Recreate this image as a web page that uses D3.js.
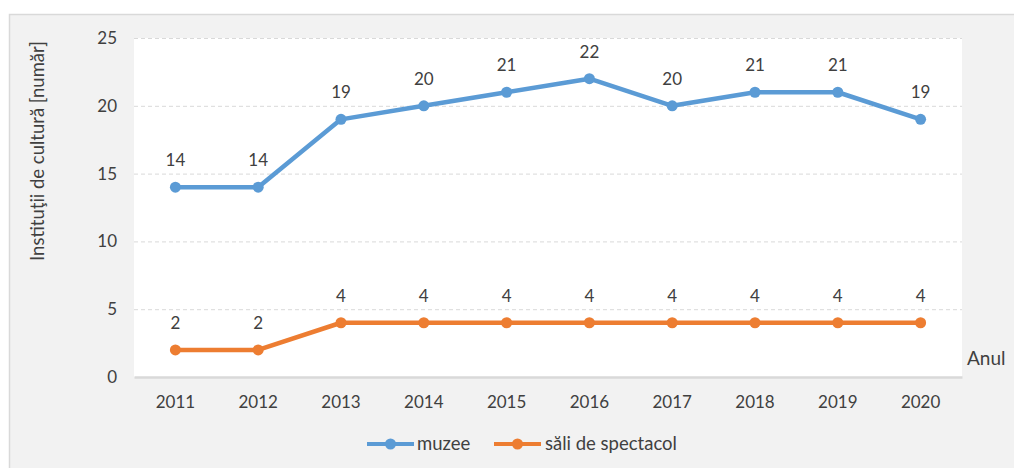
<!DOCTYPE html>
<html>
<head>
<meta charset="utf-8">
<script src="https://cdn.jsdelivr.net/npm/d3@7"></script>
<style>
  html, body { margin: 0; padding: 0; background: #ffffff; }
  svg { display: block; }
  text { font-family: Lato, "Open Sans", sans-serif; fill: #404040; }
</style>
</head>
<body>
<svg id="chart" width="1014" height="468"></svg>
<script>
// Culture institutions by year
const years = ["2011","2012","2013","2014","2015","2016","2017","2018","2019","2020"];
const muzee = [14, 14, 19, 20, 21, 22, 20, 21, 21, 19];
const saliSpectacol = [2, 2, 4, 4, 4, 4, 4, 4, 4, 4];
const yTicks = [0, 5, 10, 15, 20, 25];
const seriesNames = ["muzee", "săli de spectacol"];
const seriesColors = ["#5b9bd5", "#ed7d31"];

const svg = d3.select("#chart");
const W = 1014, H = 468;
const plot = { left: 134, right: 962, top: 38, bottom: 377 };

// outer chart frame
svg.append("rect")
  .attr("x", 9.5).attr("y", 14.5)
  .attr("width", W + 10).attr("height", H + 10)
  .attr("fill", "#f2f2f2").attr("stroke", "#d9d9d9").attr("stroke-width", 1.5);

// plot background
svg.append("rect")
  .attr("x", plot.left).attr("y", plot.top)
  .attr("width", plot.right - plot.left).attr("height", plot.bottom - plot.top)
  .attr("fill", "#ffffff");

const x = d3.scaleBand().domain(years).range([plot.left, plot.right]);
const y = d3.scaleLinear().domain([0, 25]).range([plot.bottom, plot.top]);
const cx = d => x(d) + x.bandwidth() / 2;

// gridlines
svg.append("g").selectAll("line")
  .data(yTicks.filter(t => t > 0))
  .join("line")
  .attr("x1", plot.left).attr("x2", plot.right)
  .attr("y1", d => y(d) + 0.5).attr("y2", d => y(d) + 0.5)
  .attr("stroke", "#d9d9d9").attr("stroke-width", 1)
  .attr("stroke-dasharray", "4,3");

// y axis
const yAxis = svg.append("g")
  .attr("transform", `translate(${plot.left},0)`)
  .call(d3.axisLeft(y).tickValues(yTicks).tickSize(0).tickPadding(17));
yAxis.select(".domain").remove();
yAxis.selectAll("text").attr("font-size", 17).attr("fill", "#595959")
  .style("font-family", "Lato, sans-serif");

// x axis
const xAxis = svg.append("g")
  .attr("transform", `translate(0,${plot.bottom})`)
  .call(d3.axisBottom(x).tickSize(0).tickPadding(19));
xAxis.select(".domain").attr("stroke", "#d9d9d9").attr("stroke-width", 2.5);
xAxis.selectAll("text").attr("font-size", 17).attr("fill", "#595959")
  .style("font-family", "Lato, sans-serif");

// axis titles
svg.append("text")
  .attr("transform", `translate(44,151) rotate(-90)`)
  .attr("text-anchor", "middle")
  .attr("font-size", 18.5)
  .attr("fill", "#595959")
  .text("Instituţii de cultură [număr]");

svg.append("text")
  .attr("x", 967).attr("y", 365)
  .attr("font-size", 19)
  .attr("fill", "#595959")
  .text("Anul");

// series
const series = [muzee, saliSpectacol];
const line = d3.line().x((d, i) => cx(years[i])).y(d => y(d));

series.forEach((vals, s) => {
  const g = svg.append("g");
  g.append("path")
    .datum(vals)
    .attr("d", line)
    .attr("fill", "none")
    .attr("stroke", seriesColors[s])
    .attr("stroke-width", 4.5)
    .attr("stroke-linejoin", "round");
  g.selectAll("circle")
    .data(vals)
    .join("circle")
    .attr("cx", (d, i) => cx(years[i]))
    .attr("cy", d => y(d))
    .attr("r", 5.5)
    .attr("fill", seriesColors[s]);
  g.selectAll("text")
    .data(vals)
    .join("text")
    .attr("x", (d, i) => cx(years[i]))
    .attr("y", d => y(d) - 21)
    .attr("text-anchor", "middle")
    .attr("font-size", 17)
    .text(d => d);
});

// legend
const legendItems = [
  { x0: 367, tx: 417 },
  { x0: 494, tx: 545 }
];
legendItems.forEach((it, s) => {
  const ly = 444;
  svg.append("line")
    .attr("x1", it.x0).attr("x2", it.x0 + 47)
    .attr("y1", ly).attr("y2", ly)
    .attr("stroke", seriesColors[s]).attr("stroke-width", 4);
  svg.append("circle")
    .attr("cx", it.x0 + 23.5).attr("cy", ly).attr("r", 5.5)
    .attr("fill", seriesColors[s]);
  svg.append("text")
    .attr("x", it.tx).attr("y", ly + 6)
    .attr("font-size", 18.5)
    .attr("fill", "#595959")
    .text(seriesNames[s]);
});
</script>
</body>
</html>
